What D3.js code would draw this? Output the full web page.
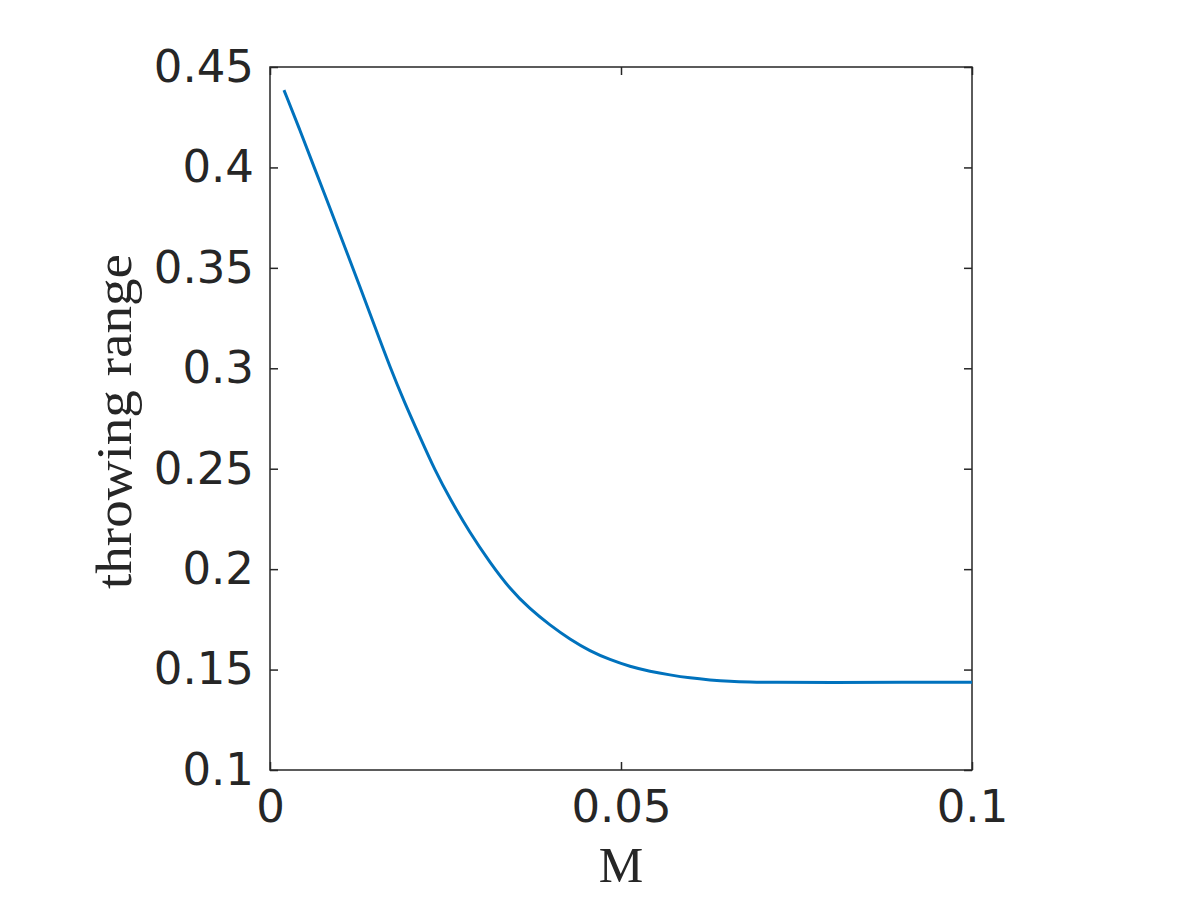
<!DOCTYPE html>
<html>
<head>
<meta charset="utf-8">
<script src="https://cdn.jsdelivr.net/npm/d3@7"></script>
<style>
  html, body { margin: 0; padding: 0; background: #ffffff; }
  svg { display: block; }
</style>
</head>
<body>
<svg id="chart" width="1200" height="900"></svg>
<script>
// Data
const M = [0.00199, 0.00427, 0.00641, 0.00855, 0.01068, 0.01282, 0.01496, 0.01709,
           0.01923, 0.02137, 0.02350, 0.02564, 0.02849, 0.03134, 0.03419,
           0.03704, 0.03989, 0.04274, 0.04558, 0.04843, 0.05128, 0.05413, 0.05698,
           0.05983, 0.06268, 0.06553, 0.06838, 0.07123, 0.0800, 0.0900, 0.1000];
const range = [0.4385, 0.4186, 0.3990, 0.3797, 0.3602, 0.3405, 0.3205, 0.3006,
               0.2824, 0.2657, 0.2491, 0.2350, 0.2180, 0.2033, 0.1901,
               0.1801, 0.1721, 0.1650, 0.1592, 0.1549, 0.1515, 0.1491, 0.1473,
               0.1458, 0.1448, 0.1441, 0.1438, 0.1436, 0.1436, 0.1437, 0.1437];
const xTicks = [0, 0.05, 0.1];
const xTickLabels = ["0", "0.05", "0.1"];
const yTicks = [0.1, 0.15, 0.2, 0.25, 0.3, 0.35, 0.4, 0.45];
const yTickLabels = ["0.1", "0.15", "0.2", "0.25", "0.3", "0.35", "0.4", "0.45"];
const xLabel = "M";
const yLabel = "throwing range";

(function () {
const svg = d3.select("#chart");
const pLeft = 270, pRight = 972, pTop = 67, pBottom = 770;
const x = d3.scaleLinear().domain([0, 0.1]).range([pLeft, pRight]);
const y = d3.scaleLinear().domain([0.1, 0.45]).range([pBottom, pTop]);
const axisColor = "#262626";
const tickFont = "DejaVu Sans, sans-serif";
const tickSize = 45;

// Box
svg.append("rect")
  .attr("x", pLeft).attr("y", pTop)
  .attr("width", pRight - pLeft).attr("height", pBottom - pTop)
  .attr("fill", "none").attr("stroke", axisColor).attr("stroke-width", 1.5);

function styleAxis(g) {
  g.select(".domain").remove();
  g.selectAll(".tick line").attr("stroke", axisColor).attr("stroke-width", 1.5);
  g.selectAll(".tick text").attr("fill", axisColor)
    .style("font-family", tickFont).style("font-size", tickSize + "px");
}

// Bottom axis
svg.append("g").attr("transform", `translate(0,${pBottom})`)
  .call(d3.axisBottom(x).tickValues(xTicks).tickSizeInner(-8).tickSizeOuter(0)
        .tickPadding(20).tickFormat((d, i) => xTickLabels[i]))
  .call(styleAxis);

// Top axis (ticks only)
svg.append("g").attr("transform", `translate(0,${pTop})`)
  .call(d3.axisTop(x).tickValues(xTicks).tickSizeInner(-8).tickSizeOuter(0).tickFormat(""))
  .call(styleAxis);

// Left axis
svg.append("g").attr("transform", `translate(${pLeft},0)`)
  .call(d3.axisLeft(y).tickValues(yTicks).tickSizeInner(-8).tickSizeOuter(0)
        .tickPadding(16).tickFormat((d, i) => yTickLabels[i]))
  .call(styleAxis);

// Right axis (ticks only)
svg.append("g").attr("transform", `translate(${pRight},0)`)
  .call(d3.axisRight(y).tickValues(yTicks).tickSizeInner(-8).tickSizeOuter(0).tickFormat(""))
  .call(styleAxis);

// Curve
const data = M.map((m, i) => ({ m, r: range[i] }));
svg.append("path")
  .datum(data)
  .attr("fill", "none")
  .attr("stroke", "#0072BD")
  .attr("stroke-width", 3)
  .attr("stroke-linejoin", "round")
  .attr("d", d3.line().x(d => x(d.m)).y(d => y(d.r)).curve(d3.curveBasis));

// Axis labels
svg.append("text")
  .attr("x", (pLeft + pRight) / 2).attr("y", 882)
  .attr("text-anchor", "middle")
  .attr("fill", axisColor)
  .style("font-family", "Liberation Serif, DejaVu Serif, serif")
  .style("font-size", "50px")
  .text(xLabel);

svg.append("text")
  .attr("transform", `translate(131,${(pTop + pBottom) / 2 + 3}) rotate(-90)`)
  .attr("text-anchor", "middle")
  .attr("fill", axisColor)
  .attr("textLength", 335)
  .attr("lengthAdjust", "spacingAndGlyphs")
  .style("font-family", "Liberation Serif, DejaVu Serif, serif")
  .style("font-size", "50px")
  .text(yLabel);
})();
</script>
</body>
</html>
